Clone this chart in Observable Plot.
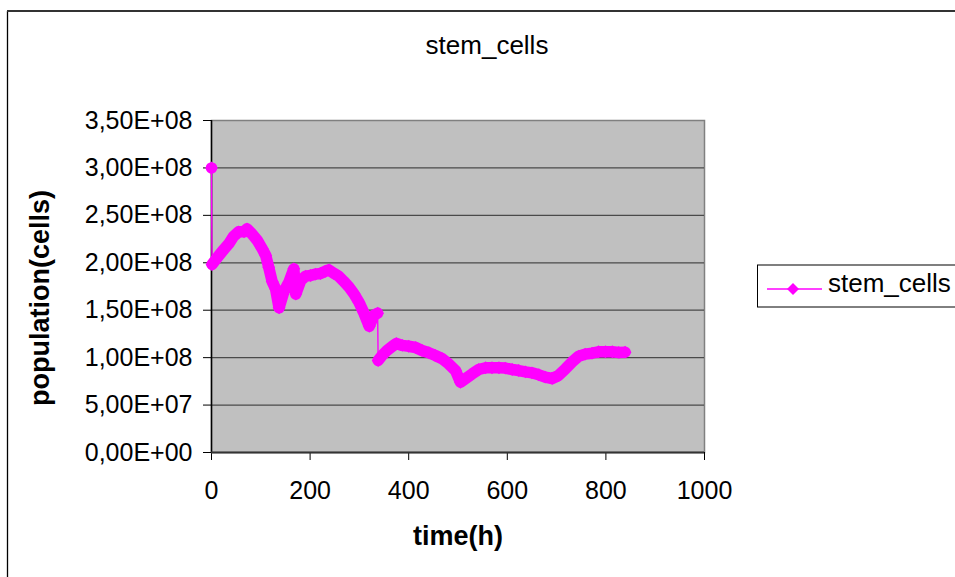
<!DOCTYPE html>
<html><head><meta charset="utf-8">
<script src="https://cdn.jsdelivr.net/npm/d3@7"></script>
<script src="https://cdn.jsdelivr.net/npm/@observablehq/plot@0.6"></script>
<style>
html,body{margin:0;padding:0;background:#fff;} svg{display:block;}
</style>
</head><body><div id="chart"></div>
<script>
const chartTitle = "stem_cells";
const xLabel = "time(h)";
const yLabel = "population(cells)";
const seriesName = "stem_cells";
const xTicks = [0, 200, 400, 600, 800, 1000];
const yTicks = [0, 5e7, 1e8, 1.5e8, 2e8, 2.5e8, 3e8, 3.5e8];
const timeH = [0,1,15,25,35,45,55,66,72,82,93,103,110,116,123,130,137,147,157,167,171,181,191,201,211,221,231,238,248,258,268,279,289,299,309,320,329,337,338,346,356,367,375,387,400,414,427,441,454,468,481,495,505,515,529,542,556,569,583,596,610,623,637,650,664,677,691,704,718,731,745,758,772,785,799,813,826,839];
const cellsM = [300,198.2,207.7,214,220,228,232.6,232.6,235.8,230.5,223.5,214.7,207.7,195.4,180.3,172.5,152.5,170,179.5,193.6,167,181.3,185.9,186.6,188,188.7,191.1,192.5,189,185.9,180.6,174.3,167.3,158.5,147.3,133,144.4,146.9,97,102.3,107.5,112,114.9,112.9,112,110.7,107.5,105.1,102.3,98.8,93.5,86.4,74.1,77.7,82.9,87.5,89.3,89.3,89.3,89,87.5,86.4,85,84,81.9,79.4,78,81.2,88.2,95.2,101.5,103.7,104.7,106.2,106.2,106.2,105.5,105.8];
// sections of the run that are joined by a thin line only (jumps at t=0 and t=338)
const sectionStarts = [0, 1, 338];

const data = timeH.map((t, i) => ({
  t, v: cellsM[i] * 1e6,
  section: sectionStarts.filter(s => t >= s).length
}));
const fmtY = v => {
  const [m, e] = v.toExponential(2).split("e");
  const sign = e[0] === "-" ? "-" : "+";
  const ex = e.replace(/[+-]/, "").padStart(2, "0");
  return m.replace(".", ",") + "E" + sign + ex;
};
const FONT = "'Liberation Sans', Arial, sans-serif";
const MAG = "#ff00ff";

const svg = Plot.plot({
  width: 955, height: 577,
  marginLeft: 211, marginRight: 251, marginTop: 120, marginBottom: 125,
  style: {fontFamily: FONT, fontSize: "25px", background: "#fff", color: "#000"},
  x: {domain: [0, 1000]},
  y: {domain: [0, 3.5e8]},
  marks: [
    Plot.frame({fill: "#c0c0c0", stroke: "#808080", strokeWidth: 1.5}),
    Plot.gridY(yTicks.filter(d => d > 0 && d < 3.5e8), {stroke: "#4a4a4a", strokeOpacity: 1, strokeWidth: 1.3}),
    Plot.axisY({ticks: yTicks, tickFormat: fmtY, tickSize: 8, tickPadding: 11, label: null}),
    Plot.axisX({ticks: xTicks, tickFormat: d => String(d), tickSize: 8, tickPadding: 21, label: null}),
    Plot.ruleX([0], {stroke: "#000", strokeWidth: 1.5}),
    Plot.ruleY([0], {stroke: "#333", strokeWidth: 2}),
    Plot.line(data, {x: "t", y: "v", stroke: MAG, strokeWidth: 1.4}),
    Plot.line(data, {x: "t", y: "v", z: "section", stroke: MAG, strokeWidth: 11.5, strokeLinejoin: "round", strokeLinecap: "round"}),
    Plot.dot(data, {x: "t", y: "v", symbol: "diamond2", r: 5.8, fill: MAG, stroke: null})
  ]
});

const s = d3.select(svg);
// tick label fonts
s.selectAll("text").each(function() {
  const txt = this.textContent;
  if (/E[+-]\d\d$/.test(txt) || /^\d+$/.test(txt)) {
    this.setAttribute("font-size", "25"); this.style.fontSize = "25px"; this.style.fontFamily = FONT;
  }
});
// outer chart border
s.append("line").attr("x1", 7.5).attr("y1", 11).attr("x2", 7.5).attr("y2", 577).attr("stroke", "#000").attr("stroke-width", 1.3);
s.append("line").attr("x1", 7).attr("y1", 11).attr("x2", 955).attr("y2", 11).attr("stroke", "#333").attr("stroke-width", 2);
// title
s.append("text").attr("x", 487).attr("y", 54).attr("text-anchor", "middle")
  .attr("font-family", FONT).attr("font-size", 26).attr("fill", "#000").text(chartTitle);
// axis titles
s.append("text").attr("x", 458).attr("y", 545).attr("text-anchor", "middle")
  .attr("font-family", FONT).attr("font-size", 27).attr("font-weight", "bold").attr("fill", "#000").text(xLabel);
s.append("text").attr("transform", "translate(49,298) rotate(-90)").attr("text-anchor", "middle")
  .attr("font-family", FONT).attr("font-size", 27).attr("font-weight", "bold").attr("fill", "#000").text(yLabel);
// legend
const lg = s.append("g");
lg.append("rect").attr("x", 757.5).attr("y", 265).attr("width", 300).attr("height", 42)
  .attr("fill", "#fff").attr("stroke", "#000").attr("stroke-width", 1);
lg.append("line").attr("x1", 767).attr("x2", 822).attr("y1", 289).attr("y2", 289).attr("stroke", MAG).attr("stroke-width", 1.5);
lg.append("path").attr("d", "M793,283L799,289L793,295L787,289Z").attr("fill", MAG);
lg.append("text").attr("x", 828).attr("y", 292).attr("text-anchor", "start")
  .attr("font-family", FONT).attr("font-size", 26).attr("fill", "#000").text(seriesName);

document.getElementById("chart").appendChild(svg);
</script>
</body></html>
